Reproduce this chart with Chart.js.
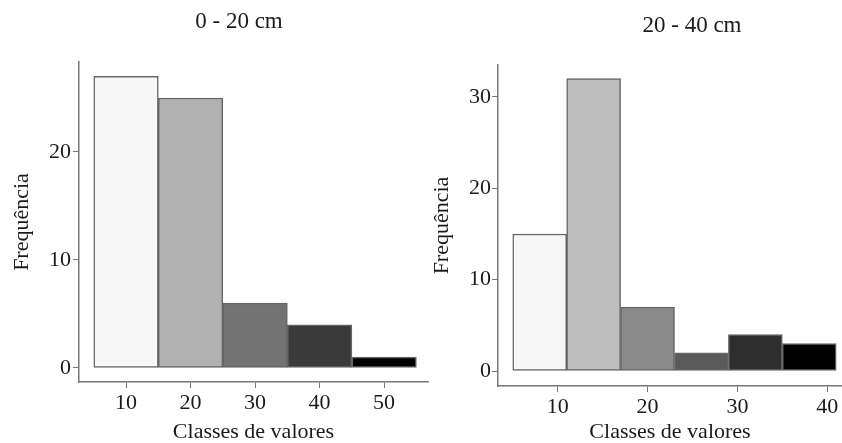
<!DOCTYPE html>
<html>
<head>
<meta charset="utf-8">
<script src="https://cdn.jsdelivr.net/npm/chart.js@4.4.0/dist/chart.umd.min.js"></script>
<style>
  html, body { margin: 0; padding: 0; background: #fff; }
  #wrap { position: relative; width: 842px; height: 443px; overflow: hidden; }
  #wrap canvas { position: absolute; top: 0; }
</style>
</head>
<body>
<div id="wrap">
  <canvas id="chartTop" width="432" height="443" style="left:0px"></canvas>
  <canvas id="chartDeep" width="416" height="443" style="left:426px"></canvas>
</div>
<script>
// data
const classesTop = [10, 20, 30, 40, 50];        // bin centres, 0 - 20 cm
const freqTop = [27, 25, 6, 4, 1];
const classesDeep = [8, 14, 20, 26, 32, 38];    // bin centres, 20 - 40 cm
const freqDeep = [15, 32, 7, 2, 4, 3];
const titleTop = '0 - 20 cm';
const titleDeep = '20 - 40 cm';
const xLabel = 'Classes de valores';
const yLabel = 'Frequência';

// grey ramps of the bars
const greysTop = ['#f7f7f7', '#b1b1b1', '#737373', '#3a3a3a', '#000000'];
const greysDeep = ['#f7f7f7', '#bebebe', '#8a8a8a', '#5a5a5a', '#2e2e2e', '#000000'];

const FONT = "'Liberation Serif', 'Times New Roman', serif";
const TXT = '#1a1a1a';
const AXIS = '#777777';

// draws the panel title where it sits in the picture
const panelTitle = {
    id: 'panelTitle',
    afterDraw(chart, args, opts) {
        const ctx = chart.ctx;
        ctx.save();
        ctx.font = '23px ' + FONT;
        ctx.fillStyle = TXT;
        ctx.textAlign = 'center';
        ctx.textBaseline = 'middle';
        ctx.fillText(opts.text, opts.x, opts.y);
        ctx.restore();
    }
};

function makeHist(id, classes, freq, greys, cfg) {
    const ctx = document.getElementById(id).getContext('2d');
    return new Chart(ctx, {
        type: 'bar',
        data: {
            datasets: [{
                data: classes.map((c, i) => ({ x: c, y: freq[i] })),
                backgroundColor: greys,
                borderColor: '#666666',
                borderWidth: 1.5,
                borderSkipped: false,
                barPercentage: 1,
                categoryPercentage: 1
            }]
        },
        options: {
            responsive: false,
            animation: false,
            devicePixelRatio: 1,
            layout: { padding: cfg.padding },
            plugins: {
                legend: { display: false },
                tooltip: { enabled: false },
                panelTitle: cfg.title
            },
            scales: {
                x: {
                    type: 'linear',
                    offset: false,
                    min: cfg.xMin, max: cfg.xMax,
                    afterFit: s => { s.height = cfg.xHeight; },
                    ticks: { stepSize: 10, includeBounds: false, padding: 2, color: TXT, font: { family: FONT, size: 22 } },
                    grid: { offset: false, drawOnChartArea: false, drawTicks: true, tickLength: 6, color: AXIS },
                    border: { display: true, color: AXIS, width: 1.5 },
                    title: { display: true, text: xLabel, color: TXT, font: { family: FONT, size: 22 }, padding: { top: 0, bottom: -2 } }
                },
                y: {
                    min: cfg.yMin, max: cfg.yMax,
                    afterFit: s => { s.width = cfg.yWidth; },
                    ticks: { stepSize: 10, includeBounds: false, padding: cfg.yPad, color: TXT, font: { family: FONT, size: 22 } },
                    grid: { drawOnChartArea: false, drawTicks: true, tickLength: 6, color: AXIS },
                    border: { display: true, color: AXIS, width: 1.5 },
                    title: { display: true, text: yLabel, color: TXT, font: { family: FONT, size: 22 }, padding: { top: cfg.yTitleTop, bottom: 0 } }
                }
            }
        },
        plugins: [panelTitle]
    });
}

makeHist('chartTop', classesTop, freqTop, greysTop, {
    padding: { left: 8, right: 4, top: 62, bottom: 0 },
    xMin: 2.71, xMax: 56.8, yMin: -1.3, yMax: 28.33,
    xHeight: 61, yWidth: 71, yPad: 2, yTitleTop: 1,
    title: { text: titleTop, x: 239, y: 22 }
});

makeHist('chartDeep', classesDeep, freqDeep, greysDeep, {
    padding: { left: 0, right: 0, top: 65, bottom: 0 },
    xMin: 3.36, xMax: 41.64, yMin: -1.64, yMax: 33.5,
    xHeight: 57, yWidth: 72, yPad: 1, yTitleTop: 3,
    title: { text: titleDeep, x: 266, y: 26 }
});
</script>
</body>
</html>
